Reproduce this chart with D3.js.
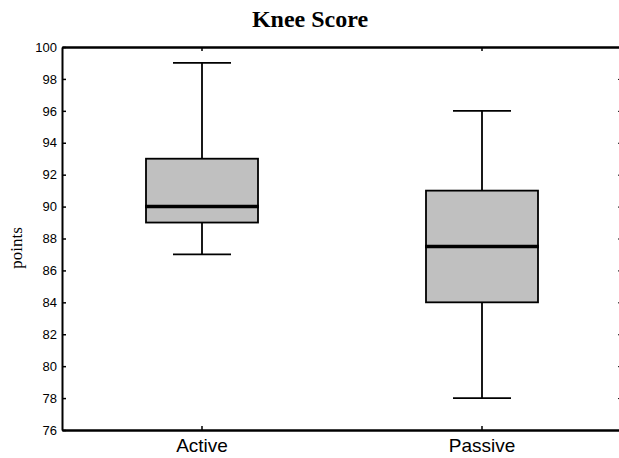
<!DOCTYPE html>
<html>
<head>
<meta charset="utf-8">
<script src="https://cdn.jsdelivr.net/npm/d3@7"></script>
<style>
  body { margin: 0; background: #fff; }
  svg { display: block; }
</style>
</head>
<body>
<div id="chart"></div>
<script>
// Data
const groups = ['Active', 'Passive'];
const mins = [87, 78];
const q1s = [89, 84];
const medians = [90, 87.5];
const q3s = [93, 91];
const maxs = [99, 96];
const yTicks = [76, 78, 80, 82, 84, 86, 88, 90, 92, 94, 96, 98, 100];

const width = 619, height = 458;
const margin = {top: 47, right: -3, bottom: 28, left: 62};
const innerW = width - margin.left - margin.right;
const innerH = height - margin.top - margin.bottom;

const svg = d3.select('#chart').append('svg')
  .attr('width', width)
  .attr('height', height);

const g = svg.append('g')
  .attr('transform', 'translate(' + margin.left + ',' + margin.top + ')');

const x = d3.scaleBand().domain(groups).range([0, innerW]);
const y = d3.scaleLinear().domain([76, 100]).range([innerH, 0]);

const boxW = 112, capW = 58;

const rows = groups.map((name, i) => ({
  name, min: mins[i], q1: q1s[i], med: medians[i], q3: q3s[i], max: maxs[i]
}));

// Boxes
const box = g.selectAll('.box').data(rows).enter().append('g')
  .attr('class', 'box')
  .attr('transform', d => 'translate(' + (x(d.name) + x.bandwidth() / 2) + ',0)');

box.append('line')
  .attr('x1', 0).attr('x2', 0)
  .attr('y1', d => y(d.max)).attr('y2', d => y(d.q3))
  .attr('stroke', '#000').attr('stroke-width', 1.8);
box.append('line')
  .attr('x1', 0).attr('x2', 0)
  .attr('y1', d => y(d.q1)).attr('y2', d => y(d.min))
  .attr('stroke', '#000').attr('stroke-width', 1.8);
box.append('line')
  .attr('x1', -capW / 2).attr('x2', capW / 2)
  .attr('y1', d => y(d.max)).attr('y2', d => y(d.max))
  .attr('stroke', '#000').attr('stroke-width', 1.8);
box.append('line')
  .attr('x1', -capW / 2).attr('x2', capW / 2)
  .attr('y1', d => y(d.min)).attr('y2', d => y(d.min))
  .attr('stroke', '#000').attr('stroke-width', 1.8);
box.append('rect')
  .attr('x', -boxW / 2).attr('width', boxW)
  .attr('y', d => y(d.q3))
  .attr('height', d => y(d.q1) - y(d.q3))
  .attr('fill', '#c0c0c0')
  .attr('stroke', '#000').attr('stroke-width', 1.8);
box.append('line')
  .attr('x1', -boxW / 2 - 1).attr('x2', boxW / 2 + 1)
  .attr('y1', d => y(d.med)).attr('y2', d => y(d.med))
  .attr('stroke', '#000').attr('stroke-width', 3.5);

// Axes
const yAxis = g.append('g')
  .call(d3.axisLeft(y).tickValues(yTicks).tickSize(-4).tickPadding(6).tickSizeOuter(0));
yAxis.select('.domain').attr('stroke-width', 2);
yAxis.selectAll('.tick line').attr('stroke-width', 1.5);
yAxis.selectAll('text')
  .attr('font-family', 'Liberation Sans, Arial, sans-serif')
  .attr('font-size', 13).attr('fill', '#000')
  .attr('x', -5);

const yRight = g.append('g')
  .attr('transform', 'translate(' + innerW + ',0)')
  .call(d3.axisRight(y).tickValues(yTicks).tickSize(-4).tickFormat('').tickSizeOuter(0));
yRight.select('.domain').attr('stroke-width', 2);

const xAxis = g.append('g')
  .attr('transform', 'translate(0,' + innerH + ')')
  .call(d3.axisBottom(x).tickSize(-4).tickPadding(9).tickSizeOuter(0));
xAxis.select('.domain').attr('stroke-width', 2.5);
xAxis.selectAll('.tick line').attr('stroke-width', 1.5);
xAxis.selectAll('text')
  .attr('font-family', 'Liberation Sans, Arial, sans-serif')
  .attr('font-size', 19).attr('fill', '#000');

const xTop = g.append('g')
  .call(d3.axisTop(x).tickSize(-4).tickFormat('').tickSizeOuter(0));
xTop.select('.domain').attr('stroke-width', 2.5);
xTop.selectAll('.tick line').attr('stroke-width', 1.5);

// Title and y label
svg.append('text')
  .attr('x', 310).attr('y', 27)
  .attr('text-anchor', 'middle')
  .attr('font-family', 'Liberation Serif, Times New Roman, serif')
  .attr('font-weight', 'bold')
  .attr('font-size', 24)
  .text('Knee Score');

svg.append('text')
  .attr('transform', 'translate(22,248) rotate(-90)')
  .attr('text-anchor', 'middle')
  .attr('font-family', 'Liberation Serif, Times New Roman, serif')
  .attr('font-size', 17)
  .text('points');
</script>
</body>
</html>
